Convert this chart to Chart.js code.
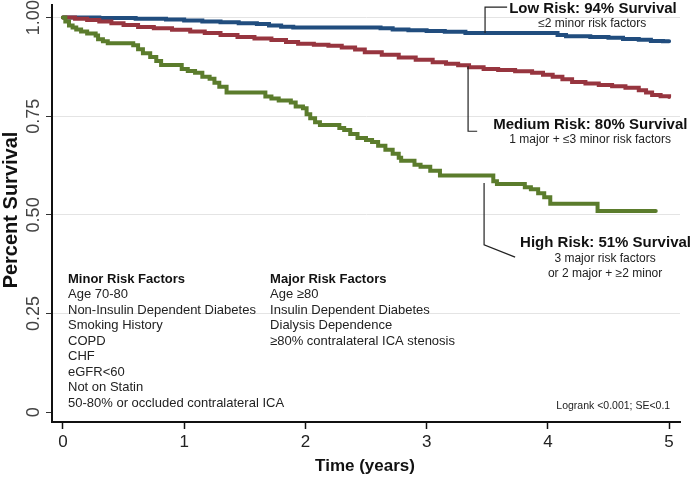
<!DOCTYPE html>
<html>
<head>
<meta charset="utf-8">
<script src="https://cdn.jsdelivr.net/npm/chart.js@4/dist/chart.umd.min.js"></script>
<style>
  html, body { margin: 0; padding: 0; background: #fff; }
</style>
</head>
<body>
<canvas id="km" width="697" height="478"></canvas>
<script>
// ---- data (time in years, survival proportion) ----
const lowT = [0, 0.30, 0.60, 0.85, 1.00, 1.15, 1.30, 1.45, 1.60, 1.70, 1.80, 1.90, 2.62, 2.72, 2.85, 3.00, 3.15, 3.32, 4.08, 4.15, 4.35, 4.50, 4.62, 4.75, 4.85, 4.95, 5.00];
const lowS = [1.0, 0.999, 0.997, 0.995, 0.993, 0.99, 0.988, 0.986, 0.984, 0.98, 0.977, 0.975, 0.973, 0.97, 0.968, 0.966, 0.964, 0.961, 0.956, 0.953, 0.951, 0.949, 0.946, 0.944, 0.941, 0.94, 0.94];

const medT = [0, 0.10, 0.20, 0.30, 0.40, 0.50, 0.62, 0.75, 0.90, 1.05, 1.17, 1.30, 1.44, 1.58, 1.72, 1.84, 1.94, 2.07, 2.19, 2.30, 2.41, 2.49, 2.63, 2.77, 2.91, 3.05, 3.16, 3.26, 3.35, 3.47, 3.59, 3.73, 3.87, 3.96, 4.04, 4.12, 4.20, 4.31, 4.42, 4.53, 4.64, 4.75, 4.81, 4.86, 4.93, 5.00];
const medS = [1.0, 0.997, 0.994, 0.99, 0.986, 0.981, 0.976, 0.973, 0.969, 0.965, 0.961, 0.956, 0.951, 0.947, 0.943, 0.938, 0.934, 0.931, 0.929, 0.924, 0.919, 0.912, 0.906, 0.899, 0.893, 0.887, 0.883, 0.879, 0.874, 0.87, 0.867, 0.864, 0.86, 0.855, 0.85, 0.844, 0.837, 0.833, 0.829, 0.826, 0.822, 0.816, 0.81, 0.804, 0.801, 0.799];

const highT = [0, 0.02, 0.05, 0.08, 0.11, 0.15, 0.20, 0.27, 0.29, 0.33, 0.37, 0.58, 0.62, 0.66, 0.72, 0.77, 0.81, 0.98, 1.03, 1.09, 1.15, 1.21, 1.25, 1.29, 1.35, 1.67, 1.72, 1.78, 1.88, 1.92, 1.98, 2.01, 2.04, 2.08, 2.12, 2.28, 2.32, 2.37, 2.43, 2.50, 2.55, 2.60, 2.66, 2.72, 2.77, 2.79, 2.90, 2.95, 3.03, 3.11, 3.55, 3.58, 3.81, 3.86, 3.92, 3.97, 4.02, 4.41, 4.89];
const highS = [1.0, 0.99, 0.98, 0.975, 0.97, 0.965, 0.96, 0.955, 0.945, 0.94, 0.935, 0.93, 0.92, 0.91, 0.90, 0.89, 0.88, 0.87, 0.865, 0.86, 0.85, 0.845, 0.835, 0.825, 0.81, 0.80, 0.795, 0.79, 0.785, 0.775, 0.77, 0.755, 0.745, 0.735, 0.728, 0.72, 0.715, 0.705, 0.695, 0.69, 0.685, 0.675, 0.665, 0.655, 0.645, 0.637, 0.627, 0.622, 0.612, 0.60, 0.585, 0.578, 0.57, 0.565, 0.555, 0.545, 0.528, 0.51, 0.51];

const xTicks = [0, 1, 2, 3, 4, 5];
const yTicks = [0, 0.25, 0.5, 0.75, 1];
const yTickLabels = ['0', '0.25', '0.50', '0.75', '1.00'];

const minorFactors = ['Age 70-80', 'Non-Insulin Dependent Diabetes', 'Smoking History', 'COPD', 'CHF', 'eGFR<60', 'Not on Statin', '50-80% or occluded contralateral ICA'];
const majorFactors = ['Age \u226580', 'Insulin Dependent Diabetes', 'Dialysis Dependence', '\u226580% contralateral ICA stenosis'];

// callouts, placed in data units (years, survival)
const notes = [
    { title: 'Low Risk: 94% Survival', sub: ['\u22642 minor risk factors'],
      at: [3.681, 1.0215], subAt: [4.366, 0.9835],
      leader: [[3.664, 1.0266], [3.482, 1.0266], [3.482, 0.961]] },
    { title: 'Medium Risk: 80% Survival', sub: ['1 major + \u22643 minor risk factors'],
      at: [3.549, 0.7275], subAt: [4.349, 0.6895],
      leader: [[3.342, 0.877], [3.342, 0.712], [3.417, 0.712]] },
    { title: 'High Risk: 51% Survival', sub: ['3 major risk factors', 'or 2 major + \u22652 minor'],
      at: [3.771, 0.4284], subAt: [4.472, 0.3878],
      leader: [[3.474, 0.5805], [3.474, 0.424], [3.73, 0.3929]] }
];

const FONT = '"Liberation Sans", Arial, sans-serif';
const pts = (t, s) => t.map((v, i) => ({ x: v, y: s[i] }));

const line = (label, t, s, color, order) => ({
    label,
    data: pts(t, s),
    stepped: 'before',
    borderColor: color,
    backgroundColor: color,
    borderWidth: 4,
    borderCapStyle: 'round',
    pointRadius: 0,
    fill: false,
    order
});

const kmText = {
    id: 'kmText',
    afterDraw(chart) {
        const { ctx, scales: { x, y } } = chart;
        const px = t => x.getPixelForValue(t);
        const py = v => y.getPixelForValue(v);
        ctx.save();

        // vertical y tick labels
        ctx.fillStyle = '#444';
        ctx.font = '18px ' + FONT;
        ctx.textAlign = 'center';
        ctx.textBaseline = 'middle';
        yTicks.forEach((v, i) => {
            ctx.save();
            ctx.translate(34, py(v));
            ctx.rotate(-Math.PI / 2);
            ctx.fillText(yTickLabels[i], 0, 0);
            ctx.restore();
        });

        // axis titles
        ctx.fillStyle = '#111';
        ctx.font = 'bold 20px ' + FONT;
        ctx.save();
        ctx.translate(11, 210);
        ctx.rotate(-Math.PI / 2);
        ctx.fillText('Percent Survival', 0, 0);
        ctx.restore();
        ctx.font = 'bold 17px ' + FONT;
        ctx.fillText('Time (years)', 365, 466);

        // callouts
        ctx.strokeStyle = '#222';
        ctx.lineWidth = 1.2;
        notes.forEach(n => {
            ctx.beginPath();
            n.leader.forEach(([t, v], i) => i ? ctx.lineTo(px(t), py(v)) : ctx.moveTo(px(t), py(v)));
            ctx.stroke();
            ctx.fillStyle = '#111';
            ctx.font = 'bold 15px ' + FONT;
            ctx.textAlign = 'left';
            ctx.fillText(n.title, px(n.at[0]), py(n.at[1]));
            ctx.fillStyle = '#222';
            ctx.font = '12px ' + FONT;
            ctx.textAlign = 'center';
            n.sub.forEach((s, i) => ctx.fillText(s, px(n.subAt[0]), py(n.subAt[1]) + i * 15));
        });

        // risk factor lists
        const block = (head, items, t) => {
            const x0 = px(t), y0 = py(0.3371);
            ctx.textAlign = 'left';
            ctx.fillStyle = '#111';
            ctx.font = 'bold 13px ' + FONT;
            ctx.fillText(head, x0, y0);
            ctx.fillStyle = '#222';
            ctx.font = '13px ' + FONT;
            items.forEach((s, i) => ctx.fillText(s, x0, y0 + (i + 1) * 15.5));
        };
        block('Minor Risk Factors', minorFactors, 0.042);
        block('Major Risk Factors', majorFactors, 1.709);

        ctx.font = '10.5px ' + FONT;
        ctx.textAlign = 'right';
        ctx.fillStyle = '#222';
        ctx.fillText('Logrank <0.001; SE<0.1', px(5.009), py(0.0152));

        ctx.restore();
    }
};

new Chart(document.getElementById('km'), {
    type: 'line',
    data: {
        datasets: [
            line('Low Risk', lowT, lowS, '#214d7e', 3),
            line('Medium Risk', medT, medS, '#97353f', 2),
            line('High Risk', highT, highS, '#5b7c2c', 1)
        ]
    },
    options: {
        responsive: false,
        animation: false,
        devicePixelRatio: 1,
        layout: { padding: { top: 5, right: 17, left: 0, bottom: 0 } },
        plugins: { legend: { display: false }, tooltip: { enabled: false } },
        scales: {
            x: {
                type: 'linear',
                min: -0.09,
                max: 5.09,
                afterBuildTicks: s => { s.ticks = xTicks.map(v => ({ value: v })); },
                afterFit: s => { s.height = 56; },
                grid: { drawOnChartArea: false, tickLength: 7, tickColor: '#111', tickWidth: 1.5 },
                border: { color: '#111', width: 2 },
                ticks: { color: '#222', padding: 3, maxRotation: 0, font: { size: 17, family: FONT } }
            },
            y: {
                type: 'linear',
                min: -0.025,
                max: 1.032,
                afterBuildTicks: s => { s.ticks = yTicks.map(v => ({ value: v })); },
                afterFit: s => { s.width = 52; },
                grid: {
                    color: c => (c.tick && c.tick.value === 0) ? 'rgba(0,0,0,0)' : '#e4e4e4',
                    tickLength: 6,
                    tickColor: '#333',
                    lineWidth: 1
                },
                border: { color: '#111', width: 2 },
                ticks: { display: false }
            }
        }
    },
    plugins: [kmText]
});
</script>
</body>
</html>
